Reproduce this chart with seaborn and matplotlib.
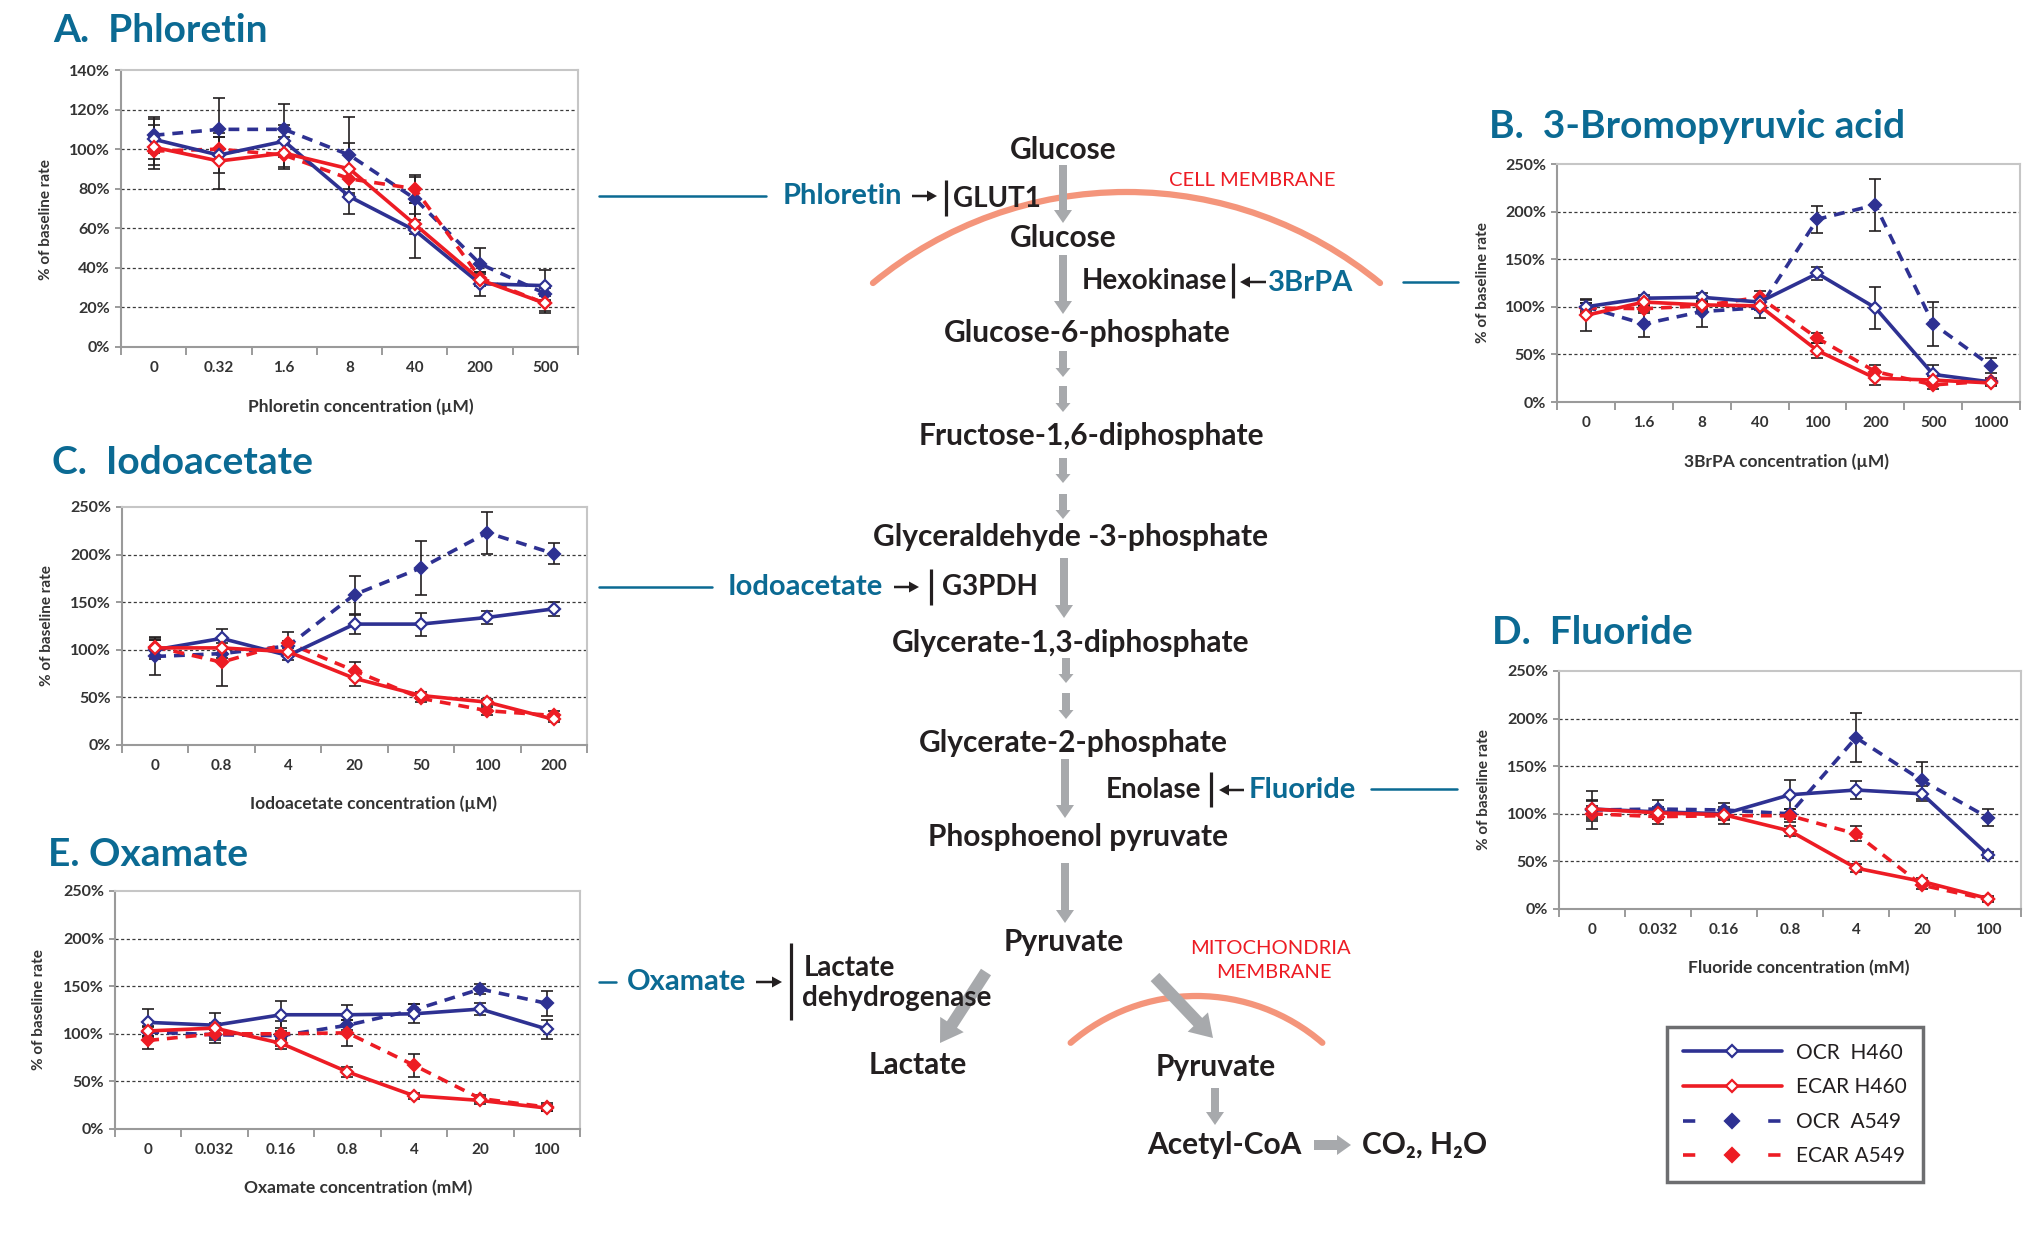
import numpy as np
import pandas as pd
import matplotlib
matplotlib.use("Agg")
import matplotlib.pyplot as plt
import seaborn as sns
from matplotlib.patches import Arc, FancyArrow
from matplotlib.lines import Line2D

sns.set_theme(style="white")
plt.rcParams['font.family'] = ['Lato', 'DejaVu Sans']

W, H = 2033, 1236

BLUE = '#2e3192'
RED = '#ed1c24'
TEAL = '#0b6a93'
GRAY = '#a7a9ac'
DARK = '#231f20'
MEMB = '#f4957b'

SERIES = ['OCR  H460', 'ECAR H460', 'OCR  A549', 'ECAR A549']

# ---- A. Phloretin
phl_conc = ['0', '0.32', '1.6', '8', '40', '200', '500']
phl_ocr_h460 = [105, 97, 104, 76, 59, 32, 31]
phl_ecar_h460 = [101, 94, 98, 90, 62, 34, 22]
phl_ocr_a549 = [107, 110, 110, 97, 75, 42, 27]
phl_ecar_a549 = [99, 100, 97, 85, 80, 35, 22]
phl_err_ocr_h460 = [10, 9, 8, 9, 14, 6, 8]
phl_err_ecar_h460 = [11, 14, 8, 13, 5, 3, 5]
phl_err_ocr_a549 = [9, 16, 13, 19, 11, 8, 3]
phl_err_ecar_a549 = [7, 6, 6, 5, 7, 3, 4]

# ---- B. 3-Bromopyruvic acid
brpa_conc = ['0', '1.6', '8', '40', '100', '200', '500', '1000']
brpa_ocr_h460 = [100, 109, 110, 105, 135, 99, 29, 21]
brpa_ecar_h460 = [91, 105, 102, 101, 54, 25, 23, 20]
brpa_ocr_a549 = [100, 82, 95, 99, 192, 207, 82, 38]
brpa_ecar_a549 = [99, 98, 101, 110, 67, 32, 18, 22]
brpa_err_ocr_h460 = [4, 3, 4, 4, 7, 22, 10, 3]
brpa_err_ecar_h460 = [16, 4, 3, 4, 8, 7, 4, 3]
brpa_err_ocr_a549 = [8, 14, 16, 11, 14, 27, 23, 8]
brpa_err_ecar_a549 = [5, 4, 4, 7, 5, 7, 4, 3]

# ---- C. Iodoacetate
iodo_conc = ['0', '0.8', '4', '20', '50', '100', '200']
iodo_ocr_h460 = [100, 112, 94, 127, 127, 134, 143]
iodo_ecar_h460 = [102, 102, 98, 70, 52, 45, 27]
iodo_ocr_a549 = [93, 96, 104, 158, 186, 223, 201]
iodo_ecar_a549 = [103, 87, 107, 78, 49, 36, 31]
iodo_err_ocr_h460 = [10, 10, 5, 10, 12, 7, 7]
iodo_err_ecar_h460 = [8, 5, 4, 8, 4, 3, 3]
iodo_err_ocr_a549 = [19, 5, 5, 20, 28, 22, 11]
iodo_err_ecar_a549 = [10, 25, 12, 9, 4, 4, 5]

# ---- D. Fluoride
fluo_conc = ['0', '0.032', '0.16', '0.8', '4', '20', '100']
fluo_ocr_h460 = [105, 102, 100, 120, 125, 121, 57]
fluo_ecar_h460 = [105, 101, 99, 82, 43, 29, 11]
fluo_ocr_a549 = [104, 105, 104, 100, 180, 135, 96]
fluo_ecar_a549 = [100, 97, 98, 98, 79, 25, 10]
fluo_err_ocr_h460 = [10, 5, 5, 15, 9, 8, 3]
fluo_err_ecar_h460 = [8, 5, 5, 5, 4, 4, 3]
fluo_err_ocr_a549 = [20, 10, 7, 5, 26, 19, 9]
fluo_err_ecar_a549 = [8, 8, 9, 7, 8, 4, 3]

# ---- E. Oxamate
oxa_conc = ['0', '0.032', '0.16', '0.8', '4', '20', '100']
oxa_ocr_h460 = [112, 109, 120, 120, 121, 126, 105]
oxa_ecar_h460 = [103, 106, 90, 60, 35, 30, 22]
oxa_ocr_a549 = [102, 99, 98, 109, 125, 147, 132]
oxa_ecar_a549 = [93, 100, 100, 101, 67, 32, 23]
oxa_err_ocr_h460 = [14, 13, 14, 10, 10, 6, 10]
oxa_err_ecar_h460 = [5, 5, 6, 5, 3, 4, 3]
oxa_err_ocr_a549 = [5, 5, 5, 5, 6, 5, 13]
oxa_err_ecar_a549 = [9, 10, 13, 14, 12, 4, 4]

STYLES = {
    'OCR  H460': dict(color=BLUE, ls='-', mfc='white'),
    'ECAR H460': dict(color=RED, ls='-', mfc='white'),
    'OCR  A549': dict(color=BLUE, ls=(0, (3, 2.2)), mfc=BLUE),
    'ECAR A549': dict(color=RED, ls=(0, (3, 2.2)), mfc=RED),
}
DRAW_ORDER = ['OCR  A549', 'ECAR A549', 'OCR  H460', 'ECAR H460']

fig = plt.figure(figsize=(W / 100, H / 100), dpi=100)


def make_frame(conc, vals, errs):
    rows = []
    for name, v, e in zip(SERIES, vals, errs):
        for i, (c, y, err) in enumerate(zip(conc, v, e)):
            rows.append(dict(series=name, pos=i, conc=c, value=y, err=err))
    return pd.DataFrame(rows)


def panel(rect, title, title_xy, conc, vals, errs, ymax, ystep, xlabel, xlab_pos, ylab_pos):
    l, t, r, b = rect
    ax = fig.add_axes([l / W, 1 - b / H, (r - l) / W, (b - t) / H])
    df = make_frame(conc, vals, errs)
    n = len(conc)

    yt = np.arange(0, ymax + 1, ystep)
    for v in yt[1:-1]:
        ax.axhline(v, color='#3a3a3a', lw=0.9, ls=(0, (2.5, 2)), zorder=1)

    for name in DRAW_ORDER:
        sub = df[df.series == name]
        ax.errorbar(sub.pos, sub.value, yerr=sub.err, fmt='none', ecolor=DARK,
                    elinewidth=1.2, capsize=4, capthick=1.2, zorder=3)
    for name in DRAW_ORDER:
        sub = df[df.series == name]
        st = STYLES[name]
        sns.lineplot(data=sub, x='pos', y='value', ax=ax, color=st['color'],
                     linestyle=st['ls'], linewidth=2.6, marker='D', markersize=5.8,
                     markerfacecolor=st['mfc'], markeredgecolor=st['color'],
                     markeredgewidth=1.6, zorder=4)

    ax.set_xlim(-0.5, n - 0.5)
    ax.set_ylim(0, ymax)
    ax.set_xticks(np.arange(n + 1) - 0.5)
    ax.set_xticklabels([])
    ax.set_xticks(np.arange(n), minor=True)
    ax.set_xticklabels(conc, minor=True)
    ax.tick_params(axis='x', which='major', direction='out', length=6, width=1.2,
                   color='#8a8a8a', bottom=True)
    ax.tick_params(axis='x', which='minor', length=0, pad=10, labelsize=11,
                   labelcolor='#333333', bottom=True)
    ax.set_yticks(yt)
    ax.set_yticklabels([f'{v}%' for v in yt])
    ax.tick_params(axis='y', direction='out', length=4, width=1.2, color='#8a8a8a',
                   left=True, pad=4, labelsize=11.5, labelcolor='#333333')
    for lab in ax.get_xticklabels(minor=True) + ax.get_yticklabels():
        lab.set_fontweight('bold')

    for s in ['top', 'right']:
        ax.spines[s].set_color('#c6c6c6')
        ax.spines[s].set_linewidth(1.5)
    for s in ['left', 'bottom']:
        ax.spines[s].set_color('#9a9a9a')
        ax.spines[s].set_linewidth(1.5)

    ax.set_xlabel(xlabel, fontsize=12.5, fontweight='bold', color='#333333')
    ax.xaxis.set_label_coords(*xlab_pos)
    ax.xaxis.label.set_va('center')
    ax.set_ylabel('% of baseline rate', fontsize=11, fontweight='bold', color='#333333')
    ax.yaxis.set_label_coords(*ylab_pos)
    ax.yaxis.label.set_va('center')

    fig.text(title_xy[0] / W, 1 - title_xy[1] / H, title, fontsize=28, fontweight='bold',
             color=TEAL, ha='left', va='center')
    return ax


panel((121, 70, 578, 347), 'A.  Phloretin', (53, 30), phl_conc,
      [phl_ocr_h460, phl_ecar_h460, phl_ocr_a549, phl_ecar_a549],
      [phl_err_ocr_h460, phl_err_ecar_h460, phl_err_ocr_a549, phl_err_ecar_a549],
      140, 20, 'Phloretin concentration (µM)', (0.525, -60 / 277), (-0.165, 0.46))
panel((1557, 164, 2020, 402), 'B.  3-Bromopyruvic acid', (1489, 127), brpa_conc,
      [brpa_ocr_h460, brpa_ecar_h460, brpa_ocr_a549, brpa_ecar_a549],
      [brpa_err_ocr_h460, brpa_err_ecar_h460, brpa_err_ocr_a549, brpa_err_ecar_a549],
      250, 50, '3BrPA concentration (µM)', (0.495, -60 / 238), (-0.16, 0.5))
panel((122, 507, 587, 745), 'C.  Iodoacetate', (52, 463), iodo_conc,
      [iodo_ocr_h460, iodo_ecar_h460, iodo_ocr_a549, iodo_ecar_a549],
      [iodo_err_ocr_h460, iodo_err_ecar_h460, iodo_err_ocr_a549, iodo_err_ecar_a549],
      250, 50, 'Iodoacetate concentration (µM)', (0.54, -59 / 238), (-0.161, 0.5))
panel((1559, 671, 2021, 909), 'D.  Fluoride', (1492, 632), fluo_conc,
      [fluo_ocr_h460, fluo_ecar_h460, fluo_ocr_a549, fluo_ecar_a549],
      [fluo_err_ocr_h460, fluo_err_ecar_h460, fluo_err_ocr_a549, fluo_err_ecar_a549],
      250, 50, 'Fluoride concentration (mM)', (0.52, -59 / 238), (-0.162, 0.5))
panel((115, 891, 580, 1129), 'E. Oxamate', (48, 855), oxa_conc,
      [oxa_ocr_h460, oxa_ecar_h460, oxa_ocr_a549, oxa_ecar_a549],
      [oxa_err_ocr_h460, oxa_err_ecar_h460, oxa_err_ocr_a549, oxa_err_ecar_a549],
      250, 50, 'Oxamate concentration (mM)', (0.523, -59 / 238), (-0.163, 0.5))

# ---- legend (dashed handles drawn with long gaps, as in the original key)
LEG_LS = {'OCR  H460': '-', 'ECAR H460': '-',
          'OCR  A549': (0, (3.4, 8.4)), 'ECAR A549': (0, (3.4, 8.4))}
handles = [Line2D([], [], color=STYLES[s]['color'], linestyle=LEG_LS[s], linewidth=2.6,
                  marker='D', markersize=7 if s.endswith('A549') else 6,
                  markerfacecolor=STYLES[s]['mfc'],
                  markeredgecolor=STYLES[s]['color'], markeredgewidth=1.6) for s in SERIES]
leg = fig.legend(handles, SERIES, loc='upper left', bbox_to_anchor=(1667 / W, 1 - 1027 / H),
                 borderaxespad=0, frameon=True, fancybox=False, framealpha=1,
                 edgecolor='#6d6e70', fontsize=15, handlelength=4.75, handletextpad=0.7,
                 labelspacing=0.7, borderpad=0.75, labelcolor=DARK)
leg.get_frame().set_linewidth(2.5)

# ---- pathway diagram (overlay in pixel coordinates)
ov = fig.add_axes([0, 0, 1, 1], zorder=-1)
ov.set_xlim(0, W)
ov.set_ylim(H, 0)
ov.axis('off')


def txt(x, y, s, color=DARK, size=21.5, weight='bold', ha='center'):
    ov.text(x, y, s, color=color, fontsize=size, fontweight=weight, ha=ha, va='center')


def garrow(x0, y0, x1, y1, w=8, hw=18, hl=13):
    ov.add_patch(FancyArrow(x0, y0, x1 - x0, y1 - y0, width=w, head_width=hw, head_length=hl,
                            length_includes_head=True, color=GRAY, lw=0))


def inhib(x0, x1, y, bar_x, bar_y0, bar_y1):
    ov.add_patch(FancyArrow(x0, y, x1 - x0, 0, width=2.5, head_width=11, head_length=10,
                            length_includes_head=True, color=DARK, lw=0))
    ov.plot([bar_x, bar_x], [bar_y0, bar_y1], color=DARK, lw=2.3, solid_capstyle='butt')


# membranes
ov.add_patch(Arc((1126.5, 590.6), 2 * 398.6, 2 * 398.6, theta1=230.5, theta2=309.5,
                 color=MEMB, lw=4.5, capstyle='round'))
ov.add_patch(Arc((1196.5, 1188.6), 2 * 192.6, 2 * 192.6, theta1=229.2, theta2=310.8,
                 color=MEMB, lw=4.5, capstyle='round'))
txt(1252, 181, 'CELL MEMBRANE', color=RED, size=14.5, weight='normal')
txt(1270, 948, 'MITOCHONDRIA', color=RED, size=14.5, weight='normal')
txt(1274, 973, 'MEMBRANE', color=RED, size=14.5, weight='normal')

# metabolites
txt(1063, 150, 'Glucose')
txt(1063, 238, 'Glucose')
txt(1087, 333, 'Glucose-6-phosphate')
txt(1091, 436, 'Fructose-1,6-diphosphate')
txt(1071, 537, 'Glyceraldehyde -3-phosphate')
txt(1071, 643, 'Glycerate-1,3-diphosphate')
txt(1073, 743, 'Glycerate-2-phosphate')
txt(1078, 837, 'Phosphoenol pyruvate')
txt(1064, 942, 'Pyruvate')
txt(918, 1065, 'Lactate')
txt(1216, 1067, 'Pyruvate')
txt(1224, 1145, 'Acetyl-CoA')
txt(1362, 1145, 'CO₂, H₂O', ha='left')

# gray pathway arrows
garrow(1063, 165, 1063, 223)
garrow(1063, 255, 1063, 314)
garrow(1063, 351, 1063, 377, hw=15, hl=9)
garrow(1063, 386, 1063, 412, hw=15, hl=9)
garrow(1063, 458, 1063, 483, hw=15, hl=9)
garrow(1063, 494, 1063, 519, hw=15, hl=9)
garrow(1064, 558, 1064, 618)
garrow(1066, 658, 1066, 683, hw=15, hl=9)
garrow(1066, 693, 1066, 719, hw=15, hl=9)
garrow(1065, 759, 1065, 818)
garrow(1065, 863, 1065, 923)
garrow(986, 972, 940, 1043, w=12, hw=28, hl=22)
garrow(1155, 977, 1213, 1038, w=12, hw=28, hl=22)
garrow(1215, 1088, 1215, 1125)
garrow(1314, 1145, 1351, 1145, w=10, hw=20, hl=14)

# inhibitors and their enzymes
ENZ = 20
ov.plot([599, 766], [196, 196], color=TEAL, lw=1.8)
txt(902, 196, 'Phloretin', color=TEAL, ha='right', size=21)
inhib(912, 937, 196, 946, 180, 216)
txt(953, 199, 'GLUT1', ha='left', size=ENZ)

txt(1227, 281, 'Hexokinase', ha='right', size=ENZ)
inhib(1266, 1240, 282, 1233, 263, 298)
txt(1268, 283, '3BrPA', color=TEAL, ha='left', size=21)
ov.plot([1403, 1458], [282, 282], color=TEAL, lw=1.8)

ov.plot([599, 712], [587, 587], color=TEAL, lw=1.8)
txt(883, 587, 'Iodoacetate', color=TEAL, ha='right', size=21)
inhib(894, 919, 587, 931, 569, 605)
txt(942, 587, 'G3PDH', ha='left', size=ENZ)

txt(1201, 790, 'Enolase', ha='right', size=ENZ)
inhib(1244, 1219, 790, 1211, 772, 807)
txt(1249, 790, 'Fluoride', color=TEAL, ha='left', size=21)
ov.plot([1371, 1457], [789, 789], color=TEAL, lw=1.8)

ov.plot([599, 616], [982, 982], color=TEAL, lw=1.8)
txt(746, 982, 'Oxamate', color=TEAL, ha='right', size=21)
inhib(756, 782, 982, 791, 943, 1020)
txt(804, 968, 'Lactate', ha='left', size=ENZ)
txt(802, 998, 'dehydrogenase', ha='left', size=ENZ)

fig.savefig('out.png', dpi=100)
